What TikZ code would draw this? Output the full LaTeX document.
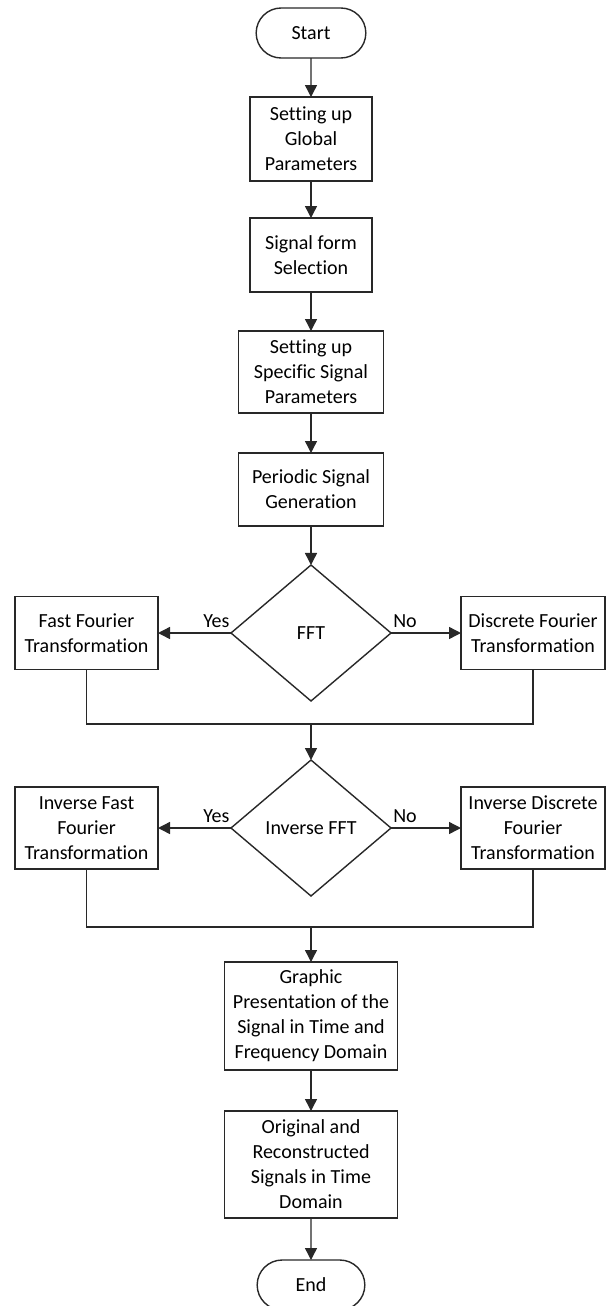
\documentclass[tikz,border=0pt]{standalone}
\usepackage{fontspec}
\setmainfont{Carlito}[Ligatures=NoCommon]
\usepackage{tikz}
\usetikzlibrary{shapes.geometric, shapes.misc, arrows.meta, positioning}
\definecolor{linegray}{RGB}{40,40,40}

\begin{document}
\begin{tikzpicture}[x=0.5pt, y=-0.5pt,
    font=\fontsize{10}{12.5}\selectfont,
    process/.style={rectangle, draw=linegray, line width=0.7pt, fill=white, align=center, inner sep=2pt, outer sep=0pt},
    decision/.style={diamond, draw=linegray, line width=0.7pt, fill=white, align=center, inner sep=0pt, outer sep=0pt, minimum width=80pt, minimum height=68pt},
    terminal/.style={rounded rectangle, draw=linegray, line width=0.7pt, fill=white, outer sep=0pt, minimum width=61.5pt, minimum height=25pt},
    arrow/.style={-{Triangle[length=6pt, width=6pt]}, line width=0.7pt, draw=linegray},
    line/.style={line width=0.7pt, draw=linegray},
    answer/.style={above, inner sep=2.5pt}]
    \useasboundingbox (0,0) rectangle (611,1306);

    % Main column
    \node[terminal] (start) at (311,33) {Start};
    \node[process, minimum width=61pt, minimum height=42pt, below=19.5pt of start] (globalpar) {Setting up\\Global\\Parameters};
    \node[process, minimum width=61pt, minimum height=37pt, below=18.5pt of globalpar] (formsel) {Signal form\\Selection};
    \node[process, minimum width=72.5pt, minimum height=41pt, below=19.5pt of formsel] (specpar) {Setting up\\Specific Signal\\Parameters};
    \node[process, minimum width=72.5pt, minimum height=36.5pt, below=20pt of specpar] (periodic) {Periodic Signal\\Generation};

    % First decision
    \node[decision, below=19.5pt of periodic] (fftq) {FFT};
    \node[process, minimum width=71.5pt, minimum height=36.5pt, left=36.5pt of fftq] (fft) {Fast Fourier\\Transformation};
    \node[process, minimum width=72pt, minimum height=36.5pt, right=35pt of fftq] (dft) {Discrete Fourier\\Transformation};

    % Second decision
    \node[decision, below=29.5pt of fftq] (ifftq) {Inverse FFT};
    \node[process, minimum width=71.5pt, minimum height=41pt, left=36.5pt of ifftq] (ifft) {Inverse Fast\\Fourier\\Transformation};
    \node[process, minimum width=72pt, minimum height=41pt, right=35pt of ifftq] (idft) {Inverse Discrete\\Fourier\\Transformation};

    % Results
    \node[process, minimum width=86.5pt, minimum height=54pt, below=33pt of ifftq] (graphic) {Graphic\\Presentation of the\\Signal in Time and\\Frequency Domain};
    \node[process, minimum width=86.5pt, minimum height=53.5pt, below=20.5pt of graphic] (orig) {Original and\\Reconstructed\\Signals in Time\\Domain};
    \node[terminal, minimum width=60.5pt, below=21pt of orig] (end) {End};

    % Joins
    \coordinate (joinA) at (fftq.south |- 0,724);
    \coordinate (joinB) at (ifftq.south |- 0,927);

    % Arrows
    \draw[arrow] (start) -- (globalpar);
    \draw[arrow] (globalpar) -- (formsel);
    \draw[arrow] (formsel) -- (specpar);
    \draw[arrow] (specpar) -- (periodic);
    \draw[arrow] (periodic) -- (fftq);

    \draw[arrow] (fftq.west) -- node[answer, pos=0.2] {Yes} (fft.east);
    \draw[arrow] (fftq.east) -- node[answer, pos=0.2] {No} (dft.west);
    \draw[line] (fft.south) |- (joinA) -| (dft.south);
    \draw[arrow] (joinA) -- (ifftq.north);

    \draw[arrow] (ifftq.west) -- node[answer, pos=0.2] {Yes} (ifft.east);
    \draw[arrow] (ifftq.east) -- node[answer, pos=0.2] {No} (idft.west);
    \draw[line] (ifft.south) |- (joinB) -| (idft.south);
    \draw[arrow] (joinB) -- (graphic.north);

    \draw[arrow] (graphic) -- (orig);
    \draw[arrow] (orig) -- (end);
\end{tikzpicture}
\end{document}
